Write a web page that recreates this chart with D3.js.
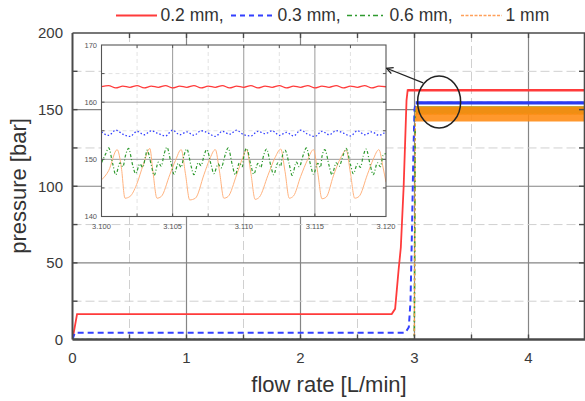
<!DOCTYPE html>
<html><head><meta charset="utf-8">
<script src="https://cdn.jsdelivr.net/npm/d3@7"></script>
<style>
html,body{margin:0;padding:0;background:#fff;}
svg{display:block;font-family:"Liberation Sans",Arial,sans-serif;}
</style></head>
<body><svg id="c" width="585" height="401"></svg>
<script>
// ---------- DATA ----------
const seriesNames = ["0.2 mm,", "0.3 mm,", "0.6 mm,", "1 mm"];
const xTicks = [0, 1, 2, 3, 4];
const yTicks = [0, 50, 100, 150, 200];
const insetXTicks = [3.100, 3.105, 3.110, 3.115, 3.120];
const insetYTicks = [140, 150, 160, 170];

// main chart curves [flow rate, pressure]
const redMain = [[0,0],[0.04,16.6],[2.80,16.6],[2.83,20],[2.86,45],[2.88,60],[2.905,100],[2.93,156],[2.94,162.7],[4.5,162.7]];
const blueMain = [[0,0],[0.02,4.4],[2.92,4.4],[2.95,8],[2.965,25],[2.975,60],[2.99,120],[3.0,150],[3.01,154.5],[4.5,154.5]];
const greenMain = [[0,0],[2.998,0],[3.002,60],[3.006,140],[3.01,150],[4.5,150]];
const orangeMain = [[0,0],[2.998,0],[3.002,60],[3.006,135],[3.01,147],[4.5,147]];
// steady oscillation envelopes after the jump (start, end, low, high)
const bandStart = [2.94, 3.01, 3.01, 3.01];
const bandEnd = [4.5, 4.5, 4.5, 4.5];
const bandLo = [161.9, 153.4, 146.8, 142.3];
const bandHi = [163.5, 155.4, 152.2, 152.0];

// inset (zoomed steady state)
const insetX = [3.1000,3.1005,3.1010,3.1015,3.1020,3.1025,3.1030,3.1035,3.1040,3.1045,
  3.1050,3.1055,3.1060,3.1065,3.1070,3.1075,3.1080,3.1085,3.1090,3.1095,
  3.1100,3.1105,3.1110,3.1115,3.1120,3.1125,3.1130,3.1135,3.1140,3.1145,
  3.1150,3.1155,3.1160,3.1165,3.1170,3.1175,3.1180,3.1185,3.1190,3.1195,3.1200];
const redInset = [162.7,162.9,162.5,162.8,162.6,162.9,162.5,162.8,162.6,162.9,
  162.5,162.8,162.6,162.9,162.5,162.8,162.6,162.9,162.5,162.8,
  162.6,162.9,162.5,162.8,162.6,162.9,162.5,162.8,162.6,162.9,
  162.5,162.8,162.6,162.9,162.5,162.8,162.6,162.9,162.5,162.8,162.7];
const blueInset = [154.8,154.2,155.1,154.4,154.0,154.9,154.3,155.0,154.5,154.1,
  155.1,154.3,154.8,154.2,155.0,154.6,154.0,154.9,154.4,155.1,
  154.3,154.1,154.9,154.5,155.0,154.2,154.7,154.1,155.1,154.4,
  154.0,154.9,154.3,155.0,154.6,154.1,155.0,154.3,154.8,154.2,154.9];
const greenInset = [[3.1000,149.4],[3.1003,151.0],
  [3.1005,152.0],[3.1008,149.1],[3.1010,147.3],[3.1013,149.4],[3.1015,148.7],[3.1017,150.8],
  [3.1019,151.9],[3.1022,148.9],[3.1024,147.5],[3.1027,149.2],[3.1029,148.6],[3.1031,150.6],
  [3.1032,151.6],[3.1035,149.0],[3.1037,147.2],[3.1040,149.5],[3.1042,148.8],[3.1044,150.9],
  [3.1046,152.1],[3.1049,149.2],[3.1051,147.4],[3.1054,149.3],[3.1056,148.6],[3.1058,150.7],
  [3.1060,151.8],[3.1063,148.8],[3.1065,147.3],[3.1068,149.4],[3.1070,148.9],[3.1072,150.6],
  [3.1074,151.7],[3.1077,149.1],[3.1079,147.5],[3.1082,149.2],[3.1084,148.5],[3.1087,150.8],
  [3.1089,152.0],[3.1092,149.0],[3.1094,147.3],[3.1097,149.4],[3.1099,148.7],[3.1100,150.5],
  [3.1102,151.9],[3.1105,149.0],[3.1107,147.4],[3.1110,149.3],[3.1112,148.6],[3.1114,150.7],
  [3.1116,151.8],[3.1119,148.9],[3.1121,147.3],[3.1124,149.4],[3.1126,148.8],[3.1127,150.4],
  [3.1129,151.6],[3.1132,149.1],[3.1134,147.2],[3.1137,149.5],[3.1139,148.7],[3.1142,150.9],
  [3.1144,152.0],[3.1147,149.0],[3.1149,147.4],[3.1152,149.3],[3.1154,148.6],[3.1155,150.5],
  [3.1157,151.7],[3.1160,148.9],[3.1162,147.3],[3.1165,149.4],[3.1167,148.8],[3.1170,150.8],
  [3.1172,151.9],[3.1175,149.1],[3.1177,147.5],[3.1180,149.2],[3.1182,148.6],[3.1184,150.6],
  [3.1186,151.8],[3.1189,148.9],[3.1191,147.3],[3.1194,149.4],[3.1196,148.7],[3.1198,150.7],
  [3.1200,151.0]];
const orangeInset = [[3.1000,146.4],[3.1005,148.0],[3.1011,151.7],[3.1014,148.5],[3.10165,143.2],[3.1020,143.5],
  [3.10247,145.6],[3.10294,149.1],[3.1034,151.9],[3.1036,148.2],[3.1039,143.2],[3.1042,143.5],
  [3.1048,147.3],[3.1052,149.8],[3.1056,151.7],[3.1059,147.5],[3.1062,142.9],[3.1066,143.2],
  [3.1072,147.3],[3.1076,150.0],[3.1080,151.7],[3.1083,147.8],[3.1086,143.2],[3.1089,143.5],
  [3.1095,147.3],[3.1099,150.1],[3.1102,151.7],[3.1105,147.6],[3.1108,143.0],[3.1111,143.4],
  [3.1117,147.2],[3.1122,150.3],[3.1126,151.8],[3.1129,147.9],[3.1132,143.2],[3.1135,143.6],
  [3.1140,147.0],[3.1145,150.0],[3.1149,151.7],[3.1152,147.7],[3.1155,143.1],[3.1158,143.4],
  [3.1163,147.1],[3.1168,150.2],[3.1172,151.6],[3.1175,147.6],[3.1178,143.2],[3.1181,143.5],
  [3.1187,147.4],[3.1191,150.0],[3.1195,151.7],[3.1198,148.5],[3.1200,146.0]];

// annotation: ellipse around zoomed region and arrow (data coordinates)
const ellipseCenter = [3.216, 155];
const arrowFrom = [3.076, 167.4];
const arrowTo = [2.755, 177.0];

// ---------- STYLE ----------
const colors = ["#ff3b3b", "#3340ff", "#2f9a2f", "#ffa05a"];
const bandColors = ["#ff3b3b", "#2a3af0", "#7fae2a", "#ff8a10"];
const dashes = [null, "6,4", "6,3,2,3", "3,2"];
const widths = [1.8, 2, 1.6, 1.2];

const svg = d3.select("#c");
const m = {l: 72.5, r: 585.5, t: 33, b: 339.5};
const x = d3.scaleLinear().domain([0, 4.5]).range([m.l, m.r]);
const y = d3.scaleLinear().domain([0, 200]).range([m.b, m.t]);

svg.append("defs").append("clipPath").attr("id","mainclip")
  .append("rect").attr("x", m.l).attr("y", m.t).attr("width", m.r - m.l).attr("height", m.b - m.t);

// grid
const g = svg.append("g");
d3.range(0.5, 4.5, 0.5).forEach(v => {
  const major = Math.abs(v - Math.round(v)) < 1e-9;
  g.append("line").attr("x1", x(v)).attr("x2", x(v)).attr("y1", m.t).attr("y2", m.b)
    .attr("stroke", major ? "#858585" : "#d0d0d0").attr("stroke-width", major ? 1.2 : 1)
    .attr("stroke-dasharray", major ? null : "9,4");
});
d3.range(25, 200, 25).forEach(v => {
  const major = v % 50 === 0;
  g.append("line").attr("x1", m.l).attr("x2", m.r).attr("y1", y(v)).attr("y2", y(v))
    .attr("stroke", major ? "#858585" : "#d0d0d0").attr("stroke-width", major ? 1.2 : 1)
    .attr("stroke-dasharray", major ? null : "9,4");
});

// data
const dataG = svg.append("g").attr("clip-path", "url(#mainclip)");
const line = d3.line().x(d => x(d[0])).y(d => y(d[1]));
const mainSeries = [redMain, blueMain, greenMain, orangeMain];
const area = d3.area().x(d => x(d[0])).y0(d => y(d[1])).y1(d => y(d[2]));
mainSeries.forEach((s, i) => {
  dataG.append("path").attr("d", line(s)).attr("fill", "none")
    .attr("stroke", i === 3 ? "#ff9a40" : colors[i]).attr("stroke-width", widths[i])
    .attr("stroke-dasharray", dashes[i]);
  dataG.append("path")
    .attr("d", area([[bandStart[i], bandLo[i], bandHi[i]], [bandEnd[i], bandLo[i], bandHi[i]]]))
    .attr("fill", bandColors[i]).attr("fill-opacity", i === 3 ? 0.88 : 1);
});

// frame and ticks
const ax = svg.append("g").attr("stroke", "#4a4a4a");
ax.append("line").attr("x1", m.l).attr("x2", m.r).attr("y1", m.t).attr("y2", m.t).attr("stroke-width", 1.6);
ax.append("line").attr("x1", m.l).attr("x2", m.l).attr("y1", m.t).attr("y2", m.b).attr("stroke-width", 2);
ax.append("line").attr("x1", m.l).attr("x2", m.r).attr("y1", m.b).attr("y2", m.b).attr("stroke-width", 2.5);
ax.append("line").attr("x1", 584.5).attr("x2", 584.5).attr("y1", m.t).attr("y2", m.b).attr("stroke-width", 1.6);
d3.range(0.5, 4.5, 0.5).forEach(v => {
  ax.append("line").attr("x1", x(v)).attr("x2", x(v)).attr("y1", m.t).attr("y2", m.t + 5).attr("stroke-width", 1.4);
  ax.append("line").attr("x1", x(v)).attr("x2", x(v)).attr("y1", m.b).attr("y2", m.b - 5).attr("stroke-width", 1.4);
});
d3.range(25, 200, 25).forEach(v => {
  ax.append("line").attr("x1", m.l).attr("x2", m.l + 5).attr("y1", y(v)).attr("y2", y(v)).attr("stroke-width", 1.4);
  ax.append("line").attr("x1", 584.5).attr("x2", 579).attr("y1", y(v)).attr("y2", y(v)).attr("stroke-width", 1.4);
});

// tick labels
const tl = svg.append("g").attr("fill", "#3a3a3a").attr("font-size", 15);
yTicks.forEach(v => tl.append("text").attr("x", 63).attr("y", y(v) + 5.3).attr("text-anchor", "end").text(v));
xTicks.forEach(v => tl.append("text").attr("x", x(v)).attr("y", 362.5).attr("text-anchor", "middle").text(v));

// axis titles
svg.append("text").attr("x", 329).attr("y", 391.5).attr("text-anchor", "middle")
  .attr("font-size", 22).attr("fill", "#333").text("flow rate [L/min]");
svg.append("text").attr("transform", "translate(25.5,186) rotate(-90)").attr("text-anchor", "middle")
  .attr("font-size", 22).attr("fill", "#333").text("pressure [bar]");

// legend
const legX = [116, 231, 347, 461];
const legLen = [41, 43, 39, 41];
const lg = svg.append("g");
seriesNames.forEach((n, i) => {
  lg.append("line").attr("x1", legX[i]).attr("x2", legX[i] + legLen[i]).attr("y1", 15.5).attr("y2", 15.5)
    .attr("stroke", colors[i]).attr("stroke-width", i === 0 ? 2.2 : i === 3 ? 1.6 : widths[i])
    .attr("stroke-dasharray", i === 1 ? "5,4" : i === 2 ? "5,3,2,3" : i === 3 ? "3,1.5" : null);
  lg.append("text").attr("x", legX[i] + legLen[i] + 3.5).attr("y", 21.3).attr("font-size", 17.5)
    .attr("fill", "#333").text(n);
});

// ---------- INSET ----------
const ib = {l: 101.5, r: 386, t: 45, b: 216.5};
const ix = d3.scaleLinear().domain([3.100, 3.120]).range([ib.l, ib.r]);
const iy = d3.scaleLinear().domain([140, 170]).range([ib.b, ib.t]);
svg.select("defs").append("clipPath").attr("id", "insetclip")
  .append("rect").attr("x", ib.l).attr("y", ib.t).attr("width", ib.r - ib.l).attr("height", ib.b - ib.t);
const ig = svg.append("g");
ig.append("rect").attr("x", ib.l).attr("y", ib.t).attr("width", ib.r - ib.l).attr("height", ib.b - ib.t).attr("fill", "#fff");
[3.1025, 3.1050, 3.1075, 3.1100, 3.1125, 3.1150, 3.1175].forEach((v, k) => {
  const major = k % 2 === 1;
  ig.append("line").attr("x1", ix(v)).attr("x2", ix(v)).attr("y1", ib.t).attr("y2", ib.b)
    .attr("stroke", major ? "#9a9a9a" : "#dadada").attr("stroke-width", major ? 1 : 0.8)
    .attr("stroke-dasharray", major ? null : "4,3");
});
[145, 150, 155, 160, 165].forEach(v => {
  const major = v % 10 === 0;
  ig.append("line").attr("x1", ib.l).attr("x2", ib.r).attr("y1", iy(v)).attr("y2", iy(v))
    .attr("stroke", major ? "#9a9a9a" : "#dadada").attr("stroke-width", major ? 1 : 0.8)
    .attr("stroke-dasharray", major ? null : "4,3");
});
const idata = ig.append("g").attr("clip-path", "url(#insetclip)");
const iline = d3.line().x(d => ix(d[0])).y(d => iy(d[1])).curve(d3.curveMonotoneX);
const redPts = insetX.map((v, k) => [v, redInset[k]]);
const bluePts = insetX.map((v, k) => [v, blueInset[k]]);
idata.append("path").attr("d", iline(redPts)).attr("fill", "none").attr("stroke", colors[0]).attr("stroke-width", 1.3);
idata.append("path").attr("d", iline(bluePts)).attr("fill", "none").attr("stroke", colors[1]).attr("stroke-width", 1.3).attr("stroke-dasharray", "1.5,2");
idata.append("path").attr("d", iline(orangeInset)).attr("fill", "none").attr("stroke", "#ffb27e").attr("stroke-width", 1);
idata.append("path").attr("d", iline(greenInset)).attr("fill", "none").attr("stroke", colors[2]).attr("stroke-width", 1.2).attr("stroke-dasharray", "3,2,1,2");
ig.append("rect").attr("x", ib.l).attr("y", ib.t).attr("width", ib.r - ib.l).attr("height", ib.b - ib.t)
  .attr("fill", "none").attr("stroke", "#555").attr("stroke-width", 1.1);
[3.1025, 3.1050, 3.1075, 3.1100, 3.1125, 3.1150, 3.1175].forEach(v => {
  ig.append("line").attr("x1", ix(v)).attr("x2", ix(v)).attr("y1", ib.b).attr("y2", ib.b - 3).attr("stroke", "#555");
  ig.append("line").attr("x1", ix(v)).attr("x2", ix(v)).attr("y1", ib.t).attr("y2", ib.t + 3).attr("stroke", "#555");
});
[145, 150, 155, 160, 165].forEach(v => {
  ig.append("line").attr("x1", ib.l).attr("x2", ib.l + 3).attr("y1", iy(v)).attr("y2", iy(v)).attr("stroke", "#555");
  ig.append("line").attr("x1", ib.r).attr("x2", ib.r - 3).attr("y1", iy(v)).attr("y2", iy(v)).attr("stroke", "#555");
});
insetYTicks.forEach(v => ig.append("text").attr("x", 97).attr("y", iy(v) + 2.5).attr("text-anchor", "end")
  .attr("font-size", 7.5).attr("fill", "#555").text(v));
insetXTicks.forEach(v => ig.append("text").attr("x", ix(v)).attr("y", 228.5).attr("text-anchor", "middle")
  .attr("font-size", 7.5).attr("fill", "#555").text(v.toFixed(3)));

// ellipse + arrow
svg.append("ellipse").attr("cx", x(ellipseCenter[0])).attr("cy", y(ellipseCenter[1]))
  .attr("rx", 21.5).attr("ry", 26).attr("fill", "none").attr("stroke", "#222").attr("stroke-width", 1.5);
svg.select("defs").append("marker").attr("id", "ah").attr("viewBox", "0 0 10 10").attr("refX", 9).attr("refY", 5)
  .attr("markerWidth", 8).attr("markerHeight", 8).attr("orient", "auto-start-reverse").attr("markerUnits", "userSpaceOnUse")
  .append("path").attr("d", "M1,1 L9,5 L1,9").attr("fill", "none").attr("stroke", "#222").attr("stroke-width", 1.6);
svg.append("line").attr("x1", x(arrowFrom[0])).attr("y1", y(arrowFrom[1]))
  .attr("x2", x(arrowTo[0])).attr("y2", y(arrowTo[1]))
  .attr("stroke", "#222").attr("stroke-width", 1.3).attr("marker-end", "url(#ah)");
</script></body></html>
